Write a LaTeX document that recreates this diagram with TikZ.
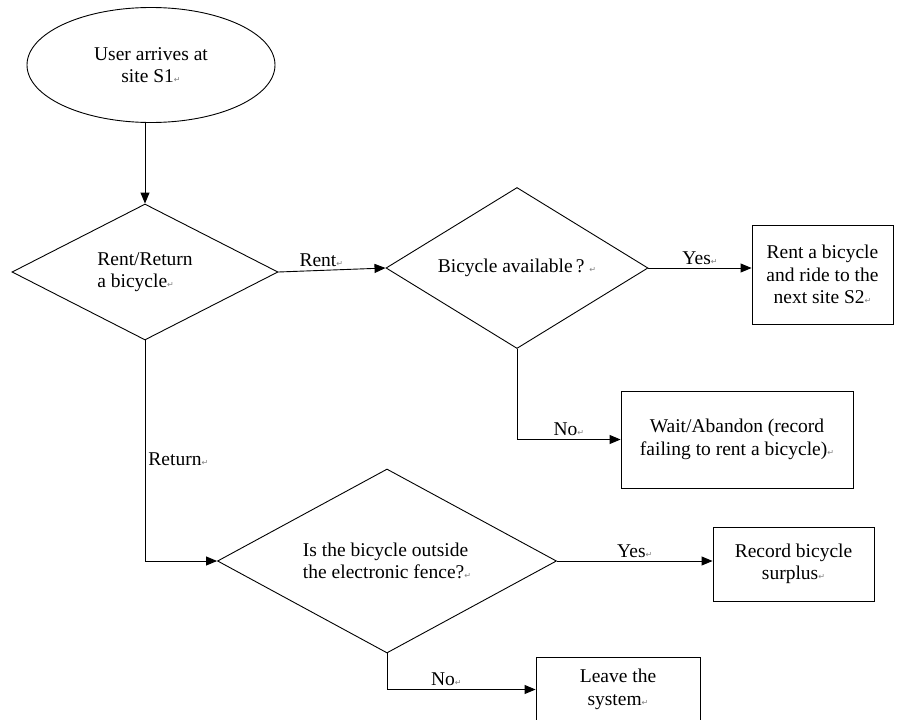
\documentclass[tikz,border=0pt]{standalone}
\usepackage{fontspec}
\setmainfont{Liberation Serif}
\newfontfamily\symfont{DejaVu Sans}
\usetikzlibrary{arrows.meta,shapes.geometric}
\newcommand{\parmk}{{\symfont\fontsize{8}{8}\selectfont\color{black!50}↵}}
\tikzset{
  txt/.style={font=\fontsize{19.5}{22.5}\selectfont, inner sep=0pt},
  term/.style={txt, ellipse, draw, line width=0.9pt, align=center},
  dec/.style={txt, diamond, draw, line width=0.9pt, aspect=2, align=left},
  act/.style={txt, rectangle, draw, line width=0.9pt, align=center},
  arr/.style={-{Triangle[length=11pt,width=9pt]}, line width=0.9pt},
  lbl/.style={font=\fontsize{19.5}{22}\selectfont, inner sep=3pt},
}
\begin{document}
\begin{tikzpicture}[x=1pt, y=-1pt]
  \useasboundingbox (0,0) rectangle (903,720);
  \node[term, minimum width=248pt, minimum height=115pt] (user) at (151,65) {User arrives at\\site S1\parmk};
  \node[dec, minimum width=266pt, minimum height=136pt] (rr) at (145,272) {Rent/Return\\a bicycle\parmk};
  \node[dec, minimum width=262pt, minimum height=161pt] (avail) at (517,268) {Bicycle available\,?\ \parmk};
  \node[dec, minimum width=339pt, minimum height=184pt] (fence) at (387,561) {Is the bicycle outside\\the electronic fence?\parmk};
  \node[act, minimum width=141pt, minimum height=99pt] (ride) at (822.5,274.5) {Rent a bicycle\\and ride to the\\next site S2\parmk};
  \node[act, minimum width=232pt, minimum height=97pt] (wait) at (737,439.5) {Wait/Abandon (record\\failing to rent a bicycle)\parmk};
  \node[act, minimum width=161pt, minimum height=74pt] (surplus) at (793.5,564) {Record bicycle\\surplus\parmk};
  \node[act, minimum width=164pt, minimum height=65pt] (leave) at (618,689.5) {Leave the\\system\parmk};
  \draw[arr] (rr.north |- user.south) -- (rr.north);
  \draw[arr] (rr.east) -- node[lbl, above, pos=0.4]{Rent\parmk} (avail.west);
  \draw[arr] (avail.east) -- node[lbl, above]{Yes\parmk} (avail.east -| ride.west);
  \draw[arr] (avail.south) |- node[lbl, above, pos=0.75]{No\parmk} (wait.west);
  \draw[arr] (rr.south) |- node[lbl, right, pos=0.27]{Return\parmk} (fence.west);
  \draw[arr] (fence.east) -- node[lbl, above]{Yes\parmk} (fence.east -| surplus.west);
  \draw[arr] (fence.south) |- node[lbl, above, pos=0.7]{No\parmk} (leave.west);
\end{tikzpicture}
\end{document}
